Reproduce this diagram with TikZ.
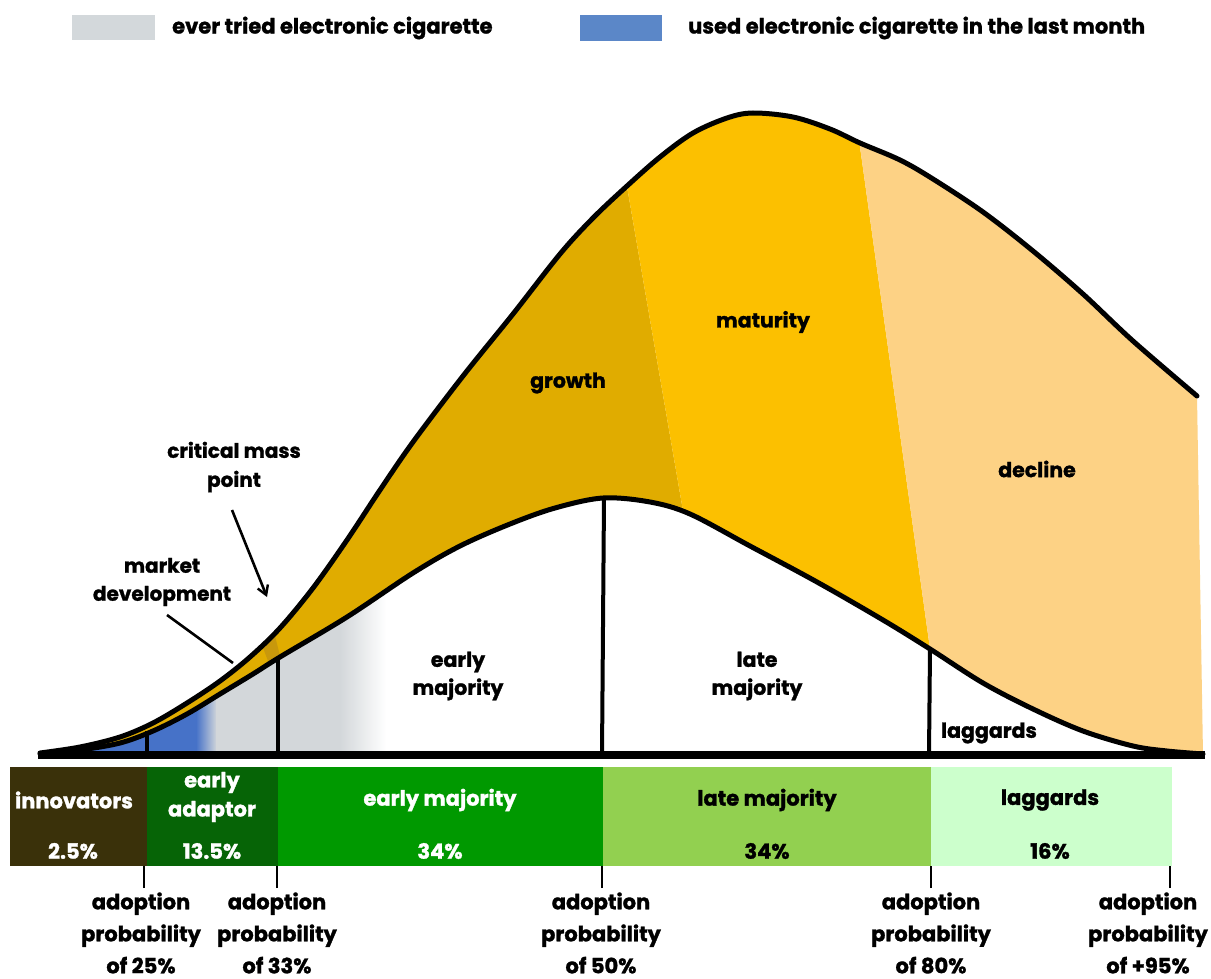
\documentclass[tikz,border=0pt]{standalone}
\usepackage{fontspec}
\setmainfont{Poppins}[BoldFeatures={FakeBold=1.3}]
\usetikzlibrary{arrows.meta}
\definecolor{growthC}{HTML}{E0AC00}
\definecolor{matC}{HTML}{FCC000}
\definecolor{declC}{HTML}{FDD285}
\definecolor{darkC}{HTML}{C8980C}
\definecolor{blueC}{HTML}{4672C8}
\definecolor{greyC}{HTML}{D3D7DA}
\definecolor{legGrey}{HTML}{D3D8DB}
\definecolor{legBlue}{HTML}{5B87C8}
\definecolor{innovC}{HTML}{3A310A}
\definecolor{adaptC}{HTML}{066406}
\definecolor{emajC}{HTML}{009900}
\definecolor{lmajC}{HTML}{92D050}
\definecolor{lagC}{HTML}{CCFFCC}
\begin{document}
\begin{tikzpicture}[x=1pt,y=-1pt,
  lbl/.style={font=\bfseries\fontsize{21}{31}\selectfont, align=center, inner sep=0pt},
  clbl/.style={font=\bfseries\fontsize{20.5}{28}\selectfont, align=center, inner sep=0pt},
  blbl/.style={font=\bfseries\fontsize{21}{29}\selectfont, align=center, inner sep=0pt},
  alb/.style={font=\bfseries\fontsize{21}{32}\selectfont, align=center, inner sep=0pt, outer sep=0pt},
  seg/.style={minimum height=99pt, inner sep=0pt, outer sep=0pt},
  curve/.style={line width=5pt, line join=round, line cap=round},
  divider/.style={line width=4pt},
  tickline/.style={line width=1.3pt},
  pointer/.style={line width=2.6pt}
]
\useasboundingbox (0,0) rectangle (1211,979);
\fill[white] (0,0) rectangle (1211,979);

\def\outerpts{plot[smooth,tension=0.55] coordinates {(40,753) (80,747) (120,737) (153,723) (187,703) (220,681) (250,657) (280,628) (313,588) (347,540) (380,490) (413,442) (463,376) (513,314) (560,254) (593,218) (627,186) (660,157) (693,133) (727,118) (753,113) (793,117) (830,129) (860,143) (900,160) (933,179) (983,212) (1033,251) (1083,294) (1133,341) (1197,396)}}
\def\lowerpts{plot[smooth,tension=0.55] coordinates {(40,754) (80,750) (120,743) (153,731) (187,714) (220,694) (253,674) (280,657) (347,617) (413,573) (460,546) (510,524) (555,508) (603,498) (650,502) (690,514) (750,546) (817,582) (883,620) (930,649) (983,683) (1033,709) (1083,731) (1133,746) (1167,751) (1203,754)}}

% coloured phases
\begin{scope}
  \clip \outerpts -- (1203,755) -- (40,755) -- cycle;
  \fill[growthC] (0,0) -- (594.8,0) -- (726,760) -- (0,760) -- cycle;
  \fill[matC] (594.8,0) -- (839.5,0) -- (945.5,760) -- (726,760) -- cycle;
  \fill[declC] (839.5,0) -- (1211,0) -- (1211,760) -- (945.5,760) -- cycle;
  \fill[darkC] (262,645) -- (274,632) -- (280,656) -- (268,661) -- cycle;
\end{scope}

% area under the bell curve
\begin{scope}
  \clip \lowerpts -- (1203,755) -- (40,755) -- cycle;
  \fill[white] (30,480) rectangle (1211,760);
  \fill[blueC] (30,600) rectangle (197,760);
  \shade[left color=blueC, right color=greyC] (196,600) rectangle (217,760);
  \fill[greyC] (216,600) rectangle (341,760);
  \shade[left color=greyC, right color=white] (340,580) rectangle (386,760);
\end{scope}

% curves and dividers
\draw[curve] \lowerpts;
\draw[curve] \outerpts;
\draw[divider] (147,731) -- (147,755);
\draw[divider] (278,658) -- (278,755);
\draw[divider] (604,498) -- (602,755);
\draw[divider] (930,649) -- (929,755);
\draw[line width=7.5pt] (38,755) -- (1205,755);

% legend
\node[fill=legGrey, minimum width=83pt, minimum height=25pt, inner sep=0pt] (lg1) at (113.5,27.5) {};
\node[lbl, anchor=west] (lt1) at (172,28) {ever tried electronic cigarette};
\node[fill=legBlue, minimum width=82pt, minimum height=26pt, inner sep=0pt] (lg2) at (621,28) {};
\node[lbl, anchor=west] (lt2) at (688,28) {used electronic cigarette in the last month};

% phase labels
\node[clbl] (growth) at (568,383) {growth};
\node[clbl] (maturity) at (763,322) {maturity};
\node[clbl] (decline) at (1037,469) {decline};
\node[clbl] (emaj) at (458,676) {early\\majority};
\node[clbl] (lmaj) at (757,676) {late\\majority};
\node[clbl] (lagg) at (989,733) {laggards};

% annotations
\node[lbl, font=\bfseries\fontsize{20}{29}\selectfont] (cmp) at (234,467) {critical mass\\point};
\node[lbl, font=\bfseries\fontsize{20}{28}\selectfont] (mdev) at (162,582) {market\\development};
\coordinate (cmpA) at (232,510);
\coordinate (cmpB) at (267,597);
\coordinate (mdA) at (167,615);
\coordinate (mdB) at (233,663);
\draw[pointer, -{Straight Barb[length=9pt,width=11pt,line width=2.4pt]}] (cmpA) -- (cmpB);
\draw[pointer] (mdA) -- (mdB);

% category bar
\node[seg, fill=innovC, minimum width=137pt] (b1) at (78.5,816.5) {};
\node[seg, fill=adaptC, minimum width=131pt] (b2) at (212.5,816.5) {};
\node[seg, fill=emajC, minimum width=325pt] (b3) at (440.5,816.5) {};
\node[seg, fill=lmajC, minimum width=328pt] (b4) at (767,816.5) {};
\node[seg, fill=lagC, minimum width=241pt] (b5) at (1051.5,816.5) {};

\node[blbl, text=white] (t1) at (74,800) {innovators};
\node[blbl, text=white] (p1) at (73,851) {2.5\%};
\node[blbl, text=white] (t2) at (212,797) {early\\adaptor};
\node[blbl, text=white] (p2) at (212,851) {13.5\%};
\node[blbl, text=white] (t3) at (440,800) {early majority};
\node[blbl, text=white] (p3) at (440,851) {34\%};
\node[blbl] (t4) at (767,800) {late majority};
\node[blbl] (p4) at (767,851) {34\%};
\node[blbl] (t5) at (1050,800) {laggards};
\node[blbl] (p5) at (1050,851) {16\%};

% adoption probability labels
\node[alb] (a25) at (141,933) {adoption\\probability\\of 25\%};
\node[alb] (a33) at (277,933) {adoption\\probability\\of 33\%};
\node[alb] (a50) at (601,933) {adoption\\probability\\of 50\%};
\node[alb] (a80) at (931,933) {adoption\\probability\\of 80\%};
\node[alb] (a95) at (1148,933) {adoption\\probability\\of +95\%};
\coordinate (k1) at (144,888);
\coordinate (k2) at (277,888);
\coordinate (k3) at (602,888);
\coordinate (k4) at (931,888);
\coordinate (k5) at (1170,888);
\draw[tickline] (k1) -- (k1 |- b1.south);
\draw[tickline] (k2) -- (k2 |- b2.south);
\draw[tickline] (k3) -- (k3 |- b3.south);
\draw[tickline] (k4) -- (k4 |- b4.south);
\draw[tickline] (k5) -- (k5 |- b5.south);
\end{tikzpicture}
\end{document}
